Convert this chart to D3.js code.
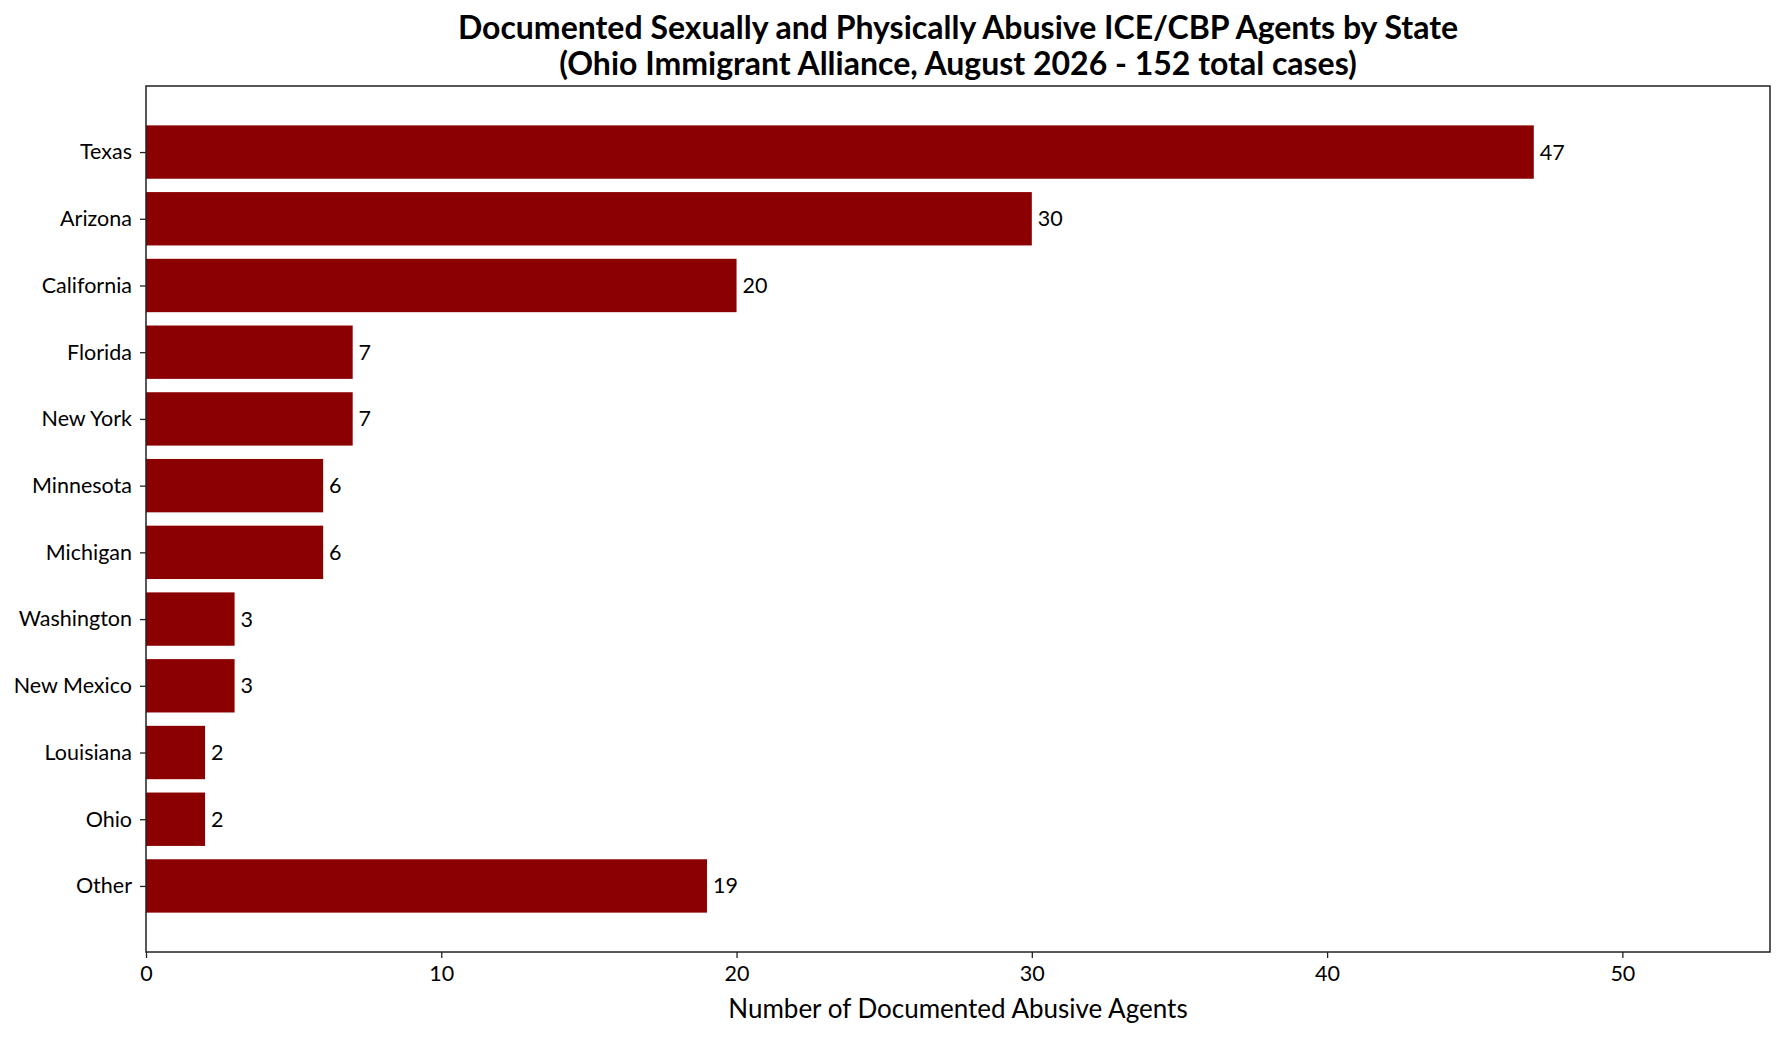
<!DOCTYPE html>
<html><head><meta charset="utf-8">
<script src="https://cdn.jsdelivr.net/npm/d3@7"></script>
<style>body{margin:0;background:#fff;} text{font-family:Lato, "Noto Sans", sans-serif;}</style>
</head><body>
<svg id="c" width="1785" height="1038"></svg>
<script>
const states = ["Texas","Arizona","California","Florida","New York","Minnesota","Michigan","Washington","New Mexico","Louisiana","Ohio","Other"];
const counts = [47,30,20,7,7,6,6,3,3,2,2,19];
const xTicks = [0,10,20,30,40,50];
const titleLines = ["Documented Sexually and Physically Abusive ICE/CBP Agents by State","(Ohio Immigrant Alliance, August 2026 - 152 total cases)"];
const xLabel = "Number of Documented Abusive Agents";

const svg = d3.select("#c");
const m = {l:146, r:1770, t:86, b:952};
const x = d3.scaleLinear().domain([0,55]).range([m.l, m.r]);
const n = states.length;
const y = d3.scaleLinear().domain([-0.4 - 0.05*(n-0.2), (n-1)+0.4 + 0.05*(n-0.2)]).range([m.t, m.b]);
const bh = y(0.8) - y(0);

svg.append("g").selectAll("rect").data(states).join("rect")
  .attr("x", x(0)).attr("y", (d,i)=>y(i)-bh/2)
  .attr("width", (d,i)=>x(counts[i])-x(0)).attr("height", bh)
  .attr("fill","#8b0000");

svg.append("g").selectAll("text").data(states).join("text")
  .attr("x",(d,i)=>x(counts[i]+0.2)).attr("y",(d,i)=>y(i)).attr("dy","0.35em")
  .attr("font-size",21.5).attr("fill","#000").text((d,i)=>counts[i]);

const ax = svg.append("g").attr("transform",`translate(0,${m.b})`)
  .call(d3.axisBottom(x).tickValues(xTicks).tickSize(6).tickPadding(8));
const ay = svg.append("g").attr("transform",`translate(${m.l},0)`)
  .call(d3.axisLeft(d3.scalePoint().domain(states).range([y(0), y(n-1)])).tickSize(6).tickPadding(8));
[ax, ay].forEach(a=>{
  a.select(".domain").remove();
  a.selectAll("line").attr("stroke","#222").attr("stroke-width",1.3);
  a.selectAll("text").attr("font-size",21.5).attr("fill","#000").style("font-family","Lato, 'Noto Sans', sans-serif");
});
svg.append("rect").attr("x",m.l).attr("y",m.t).attr("width",m.r-m.l).attr("height",m.b-m.t)
  .attr("fill","none").attr("stroke","#222").attr("stroke-width",1.5);

svg.append("text").attr("x",(m.l+m.r)/2).attr("y",1009).attr("dy","0.35em").attr("text-anchor","middle")
  .attr("font-size",26).attr("fill","#000").text(xLabel);

svg.append("g").selectAll("text").data(titleLines).join("text")
  .attr("x",(m.l+m.r)/2).attr("y",(d,i)=>28+i*36).attr("dy","0.35em").attr("text-anchor","middle")
  .attr("font-size",32).attr("font-weight","bold").attr("fill","#000").text(d=>d);
</script>
</body></html>
